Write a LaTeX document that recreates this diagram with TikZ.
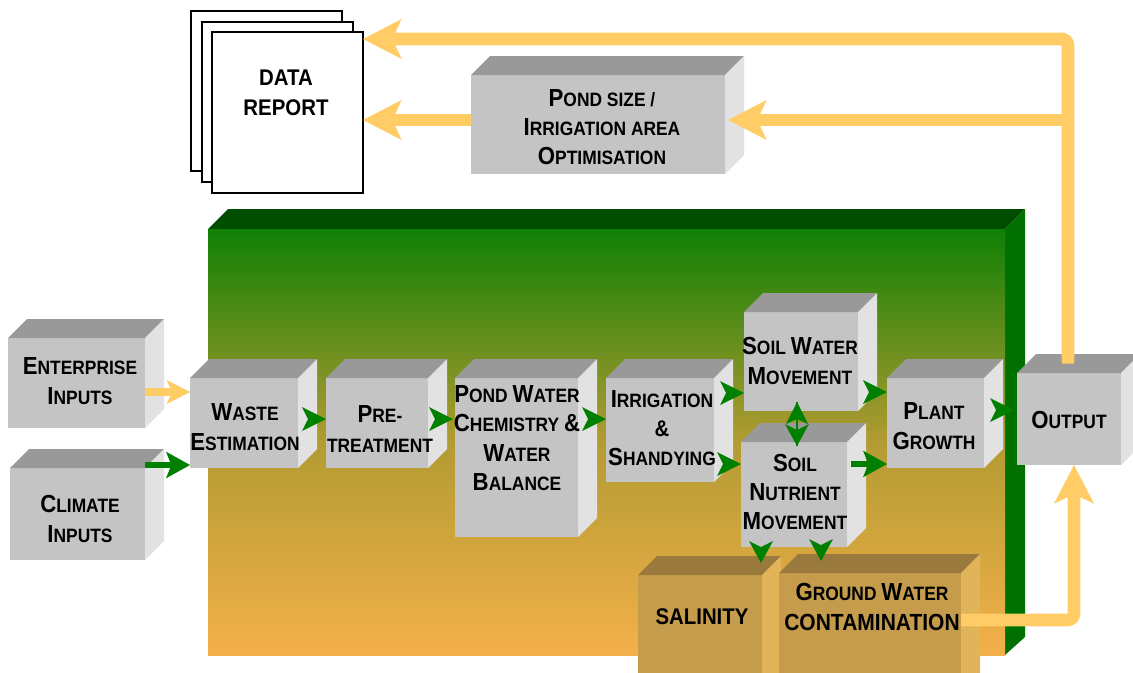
\documentclass[tikz,border=0pt]{standalone}
\usepackage{fontspec}
\setmainfont{Liberation Sans}[FakeStretch=0.9]
\usetikzlibrary{arrows.meta}
\definecolor{gF}{HTML}{C4C4C4}
\definecolor{gT}{HTML}{999999}
\definecolor{gS}{HTML}{E2E2E2}
\definecolor{bF}{HTML}{C49C4C}
\definecolor{bT}{HTML}{9A7A3C}
\definecolor{bS}{HTML}{E2B45A}
\definecolor{org}{HTML}{FFCC66}
\definecolor{grn}{HTML}{008000}
\definecolor{bgTop}{HTML}{108005}
\definecolor{bgMid}{HTML}{B29B32}
\definecolor{bgBot}{HTML}{F4B04A}
\definecolor{bxTop}{HTML}{004D00}
\definecolor{bxSide}{HTML}{007000}
\newcommand\Bg[1]{{\fontsize{18.5}{22}\selectfont #1}}
\newcommand\Bh[1]{{\fontsize{17.5}{22}\selectfont #1}}
\newcommand\mycube[9]{%
  \node[cubeface, fill=#6F, minimum width={(#4-#2)*0.75pt}, minimum height={(#5-#3)*0.75pt}] (#1) at ({(#2+#4)/2},{(#3+#5)/2}) {};
  \fill[#6T] (#1.north west) -- ++(19,-19) -- ([shift={(19,-19)}]#1.north east) -- (#1.north east) -- cycle;
  \fill[#6S] (#1.north east) -- ([shift={(19,-19)}]#1.north east) -- ([shift={(19,-19)}]#1.south east) -- (#1.south east) -- cycle;
  \node[cubetext] (#1-t) at (#7,#8) {#9};
}
% green arrowheads (tip at the named coordinate)
\newcommand\gR[1]{\fill[grn] (#1) -- ++(-24,-12) -- ++(6,12) -- ++(-6,12) -- cycle;}
\newcommand\gD[1]{\fill[grn] (#1) -- ++(-12,-22) -- ++(12,6) -- ++(12,-6) -- cycle;}
\newcommand\gU[1]{\fill[grn] (#1) -- ++(-11,22) -- ++(11,-5) -- ++(11,5) -- cycle;}
\begin{document}
\begin{tikzpicture}[x=0.75pt,y=-0.75pt,
  cubeface/.style={rectangle, inner sep=0pt, outer sep=0pt, draw=none},
  cubetext/.style={align=center, inner sep=0pt, font=\bfseries\fontsize{14.5}{22}\selectfont},
  page/.style={draw=black, fill=white, line width=1.5pt},
  oarrow/.style={draw=org, line width=9.5pt, -{Stealth[length=29pt,width=30pt,inset=7pt,line width=0pt]}},
  oarrowsm/.style={draw=org, line width=6pt, -{Stealth[length=17.5pt,width=18pt,inset=4pt,line width=0pt]}},
  garrow/.style={draw=grn, line width=5pt, -{Stealth[length=18pt,width=20pt,inset=4pt,line width=0pt]}},
  glink/.style={draw=grn, line width=1.5pt}
]
\useasboundingbox (0,0) rectangle (1133,672);
\fill[white] (0,0) rectangle (1133,672);
\clip (0,0) rectangle (1133,672);

% big background box
\fill[bxTop] (208,229) -- (228,209) -- (1025,209) -- (1005,229) -- cycle;
\fill[bxSide] (1005,229) -- (1025,209) -- (1025,637) -- (1005,655) -- cycle;
\shade[top color=bgTop, bottom color=bgBot, middle color=bgMid] (208,229) rectangle (1005,655);

% data report pages
\draw[page] (191,11) rectangle (342,171);
\draw[page] (202,22) rectangle (353,182);
\node[page, outer sep=0pt, inner sep=0pt, minimum width=113.25pt, minimum height=120.75pt] (report) at (287.5,112.5) {};
\node[align=center, inner sep=0pt, font=\bfseries\fontsize{17}{22.5}\selectfont] (report-t) at (286,93) {DATA\\REPORT};

% cubes
\mycube{psz}{471}{75}{725}{174}{g}{602}{127}{\Bg{P}OND SIZE /\\\Bg{I}RRIGATION AREA\\\Bg{O}PTIMISATION}
\mycube{ent}{8}{338}{145}{428}{g}{80}{381}{\Bg{E}NTERPRISE\\\Bg{I}NPUTS}
\mycube{clim}{10}{468}{145}{560}{g}{80}{519}{\Bg{C}LIMATE\\\Bg{I}NPUTS}
\mycube{waste}{190}{378}{298}{468}{g}{245}{427}{\Bg{W}ASTE\\\Bg{E}STIMATION}
\mycube{pre}{326}{378}{428}{468}{g}{380}{429}{\Bg{P}RE-\\TREATMENT}
\mycube{pond}{455}{378}{578}{537}{g}{517}{438}{\Bg{P}OND \Bg{W}ATER\\\Bg{C}HEMISTRY \Bg{\&}\\\Bg{W}ATER\\\Bg{B}ALANCE}
\mycube{irr}{606}{378}{714}{482}{g}{662}{428}{\Bg{I}RRIGATION\\{\fontsize{17}{22}\selectfont\&}\\\Bg{S}HANDYING}
\mycube{sw}{744}{312}{858}{411}{g}{800}{361}{\Bg{S}OIL \Bg{W}ATER\\\Bg{M}OVEMENT}
\mycube{sn}{741}{442}{847}{547}{g}{795}{492}{\Bg{S}OIL\\\Bg{N}UTRIENT\\\Bg{M}OVEMENT}
\mycube{plant}{887}{378}{984}{468}{g}{934}{426}{\Bg{P}LANT\\\Bg{G}ROWTH}
\mycube{output}{1017}{373}{1121}{465}{g}{1069}{420}{\Bg{O}UTPUT}
\mycube{sal}{638}{575}{762}{700}{b}{702}{617}{{\fontsize{17}{22}\selectfont SALINITY}}
\mycube{gw}{779}{573}{961}{700}{b}{872}{607}{\Bg{G}ROUND \Bg{W}ATER\\\Bh{CONTAMINATION}}

% inputs
\coordinate (e1) at ([yshift=-6.75pt]ent.east);
\draw[oarrowsm] (e1) -- (e1 -| waste.west);
\coordinate (c1) at ([yshift=36.75pt]clim.east);
\draw[garrow] (c1) -- (c1 -| waste.west);

% green heads along the chain (tips on the next box)
\coordinate (w1) at ([yshift=3pt]waste.east);
\path (w1 -| pre.west) coordinate (t1);
\gR{t1}
\coordinate (p1) at ([yshift=3pt]pre.east);
\path (p1 -| pond.west) coordinate (t2a);
\coordinate (t2) at ([xshift=-1.5pt]t2a);
\gR{t2}
\path (w1 -| irr.west) coordinate (t3);
\gR{t3}
\coordinate (i1) at ([yshift=27.75pt]irr.east);
\path (i1 -| sw.west) coordinate (t4);
\gR{t4}
\coordinate (i2) at ([yshift=-25.5pt]irr.east);
\path (i2 -| sn.west) coordinate (t5);
\gR{t5}
\coordinate (s2) at ([yshift=-22.9pt]sw.east);
\path (s2 -| plant.west) coordinate (t6);
\gR{t6}
\coordinate (n1) at ([xshift=3pt,yshift=22.9pt]sn.east);
\draw[garrow] (n1) -- (n1 -| plant.west);
\coordinate (pl1) at ([yshift=9.75pt]plant.east);
\path (pl1 -| output.west) coordinate (t7a);
\coordinate (t7) at ([xshift=-2.25pt]t7a);
\gR{t7}

% soil water <-> soil nutrient
\coordinate (d1) at ([xshift=-3pt,yshift=6.75pt]sw.south);
\path (d1 |- sn.north) coordinate (d2a);
\coordinate (d2) at ([yshift=-3pt]d2a);
\draw[glink] (d1) -- (d2);
\gU{d1}
\gD{d2}

% soil nutrient -> salinity / ground water
\coordinate (v1) at ([xshift=-24.75pt]sn.south);
\path (v1 |- sal.north) coordinate (v1a);
\coordinate (t8) at ([yshift=9pt]v1a);
\gD{t8}
\coordinate (v2) at ([xshift=20.25pt]sn.south);
\path (v2 |- gw.north) coordinate (v2a);
\coordinate (t9) at ([yshift=9pt]v2a);
\gD{t9}

% output feedback arrows
\coordinate (o1) at ([xshift=-0.75pt,yshift=7pt]output.north);
\coordinate (turnA) at (1068,39);
\draw[oarrow, rounded corners=5pt] (o1) -- (turnA) -- (turnA -| report.east);
\coordinate (br) at (1068,120);
\path (br -| psz.east) coordinate (br2);
\draw[oarrow] (br) -- ([xshift=2.25pt]br2);
\draw[oarrow] (br -| psz.west) -- (br -| report.east);

% ground water -> output
\coordinate (turnB) at (1074,620);
\draw[oarrow, rounded corners=5pt] (turnB -| gw.east) -- (turnB) -- (turnB |- output.south);
\end{tikzpicture}
\end{document}
